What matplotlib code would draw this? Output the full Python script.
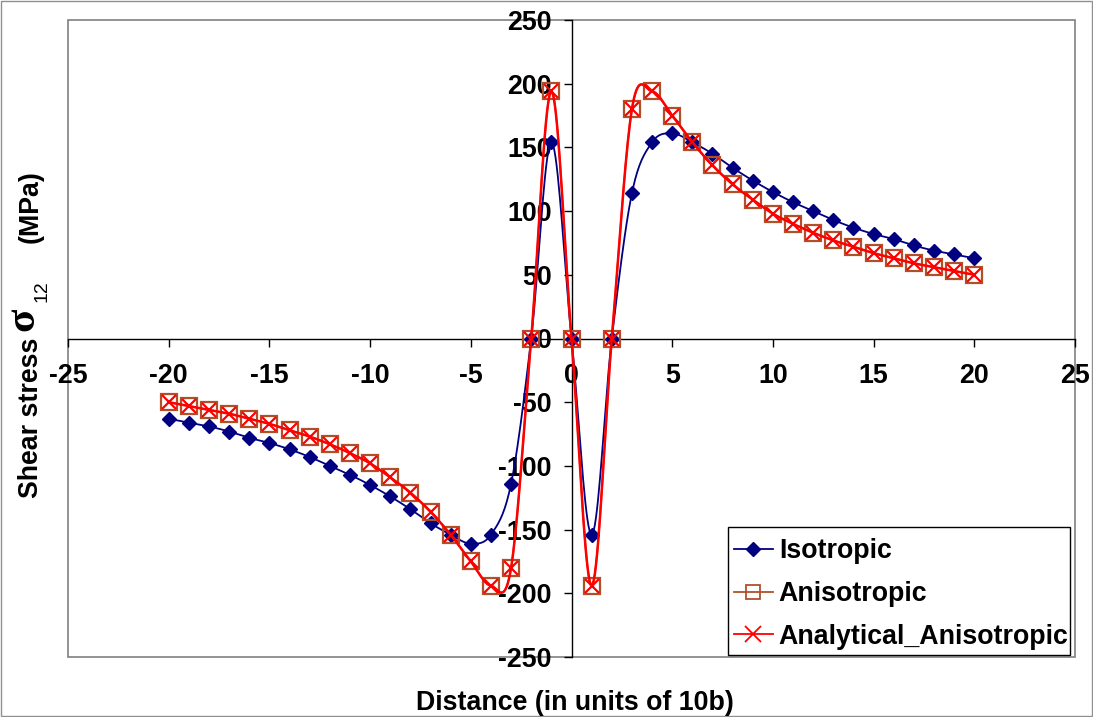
import numpy as np
import matplotlib
matplotlib.use("Agg")
import matplotlib.pyplot as plt
from matplotlib.patches import Rectangle

plt.rcParams['font.family'] = ['Liberation Sans', 'DejaVu Sans']
plt.rcParams['font.weight'] = 'bold'

# data
distance = list(range(-20, 21))
isotropic = [-63, -66, -69, -73, -78, -82, -87, -93, -100, -107, -115, -124, -134, -145,
             -154, -161, -154, -114, 0, 154, 0, -154, 0, 114, 154, 161, 154, 145, 134,
             124, 115, 107, 100, 93, 87, 82, 78, 73, 69, 66, 63]
anisotropic = [-50, -53, -56, -59, -63, -67, -72, -77, -83, -90, -98, -109, -121, -136,
               -154, -175, -194, -180, 0, 194, 0, -194, 0, 180, 194, 175, 154, 136, 121,
               109, 98, 90, 83, 77, 72, 67, 63, 59, 56, 53, 50]
analytical = list(anisotropic)

xticks = list(range(-25, 26, 5))
yticks = list(range(-250, 251, 50))

W, H = 1093, 717
FS = 19.3


# Excel-style smoothed line (cardinal spline through the points)
def smooth(x, y, n=20):
    x = np.asarray(x, float)
    y = np.asarray(y, float)
    xs, ys = [], []
    for i in range(len(x) - 1):
        x0, y0 = (x[i - 1], y[i - 1]) if i > 0 else (x[i], y[i])
        x3, y3 = (x[i + 2], y[i + 2]) if i + 2 < len(x) else (x[i + 1], y[i + 1])
        x1, y1, x2, y2 = x[i], y[i], x[i + 1], y[i + 1]
        c1x, c1y = x1 + (x2 - x0) / 6, y1 + (y2 - y0) / 6
        c2x, c2y = x2 - (x3 - x1) / 6, y2 - (y3 - y1) / 6
        t = np.linspace(0, 1, n)
        b0, b1, b2, b3 = (1 - t) ** 3, 3 * t * (1 - t) ** 2, 3 * t ** 2 * (1 - t), t ** 3
        xs.append(b0 * x1 + b1 * c1x + b2 * c2x + b3 * x2)
        ys.append(b0 * y1 + b1 * c1y + b2 * c2y + b3 * y2)
    return np.concatenate(xs), np.concatenate(ys)


fig = plt.figure(figsize=(W / 100, H / 100), dpi=100)
ax = fig.add_axes([68 / W, 1 - 657 / H, (1075 - 68) / W, (657 - 20) / H])

navy = '#000080'
brown = '#B0502A'
red = '#FF0000'

sx, sy = smooth(distance, isotropic)
ax.plot(sx, sy, color=navy, lw=1.3, zorder=3)
ax.plot(distance, isotropic, ls='none', marker='D', ms=7, color=navy, zorder=4)

sx, sy = smooth(distance, anisotropic)
ax.plot(sx, sy, color=brown, lw=1.3, zorder=3)
ax.plot(distance, anisotropic, ls='none', marker='s', ms=12, mfc='none', mec=brown,
        mew=1.6, zorder=4)

sx, sy = smooth(distance, analytical)
ax.plot(sx, sy, color=red, lw=1.8, zorder=5)
ax.plot(distance, analytical, ls='none', marker='x', ms=10, color=red, mew=1.6, zorder=6)

# legend: frame drawn separately so its size matches the original
fig.patches.append(Rectangle((728 / W, 1 - 655 / H), (1070 - 728) / W, (655 - 527) / H,
                             transform=fig.transFigure, facecolor='white',
                             edgecolor='black', lw=1.0, zorder=9))
h1, = ax.plot([], [], color=navy, lw=1.3, marker='D', ms=7)
h2, = ax.plot([], [], color=brown, lw=1.3, marker='s', ms=10, mfc='none', mew=1.3)
h3, = ax.plot([], [], color=red, lw=1.3, marker='x', ms=11, mew=1.3)
leg = fig.legend([h1, h2, h3], ['Isotropic', 'Anisotropic', 'Analytical_Anisotropic'],
                 loc='center left', bbox_to_anchor=(734 / W, 1 - 594 / H),
                 fontsize=FS, frameon=False, handlelength=1.45, borderpad=0,
                 labelspacing=0.62, handletextpad=0.22, borderaxespad=0)
leg.set_zorder(10)

ax.set_xlim(-25, 25)
ax.set_ylim(-250, 250)
ax.set_xticks(xticks)
ax.set_yticks(yticks)
ax.set_xticklabels([str(v) for v in xticks])
ax.set_yticklabels([str(v) for v in yticks])

for s in ['left', 'bottom']:
    ax.spines[s].set_position(('data', 0))
    ax.spines[s].set_color('black')
    ax.spines[s].set_linewidth(1.0)
for s in ['top', 'right']:
    ax.spines[s].set_visible(False)
ax.tick_params(direction='out', length=5.8, width=1, labelsize=FS)
ax.tick_params(axis='x', pad=12)
ax.tick_params(axis='y', pad=8.5)

ax.add_patch(Rectangle((0, 0), 1, 1, transform=ax.transAxes, fill=False,
                       edgecolor='#808080', lw=1.2, zorder=0, clip_on=False))

fig.text(575 / W, 1 - 703 / H, 'Distance (in units of 10b)', ha='center',
         va='center', fontsize=FS, fontweight='bold')

# y label built from pieces so sigma can be bigger than the rest
ykw = dict(rotation=90, rotation_mode='anchor', ha='center', va='baseline')
fig.text(38 / W, 1 - 418 / H, 'Shear stress', fontsize=FS, fontweight='bold', **ykw)
fig.text(33 / W, 1 - 319 / H, 'σ', fontsize=31, fontweight='bold',
         family=['Liberation Serif', 'DejaVu Serif'], **ykw)
fig.text(47 / W, 1 - 291 / H, '12', fontsize=14, fontweight='normal', **ykw)
fig.text(38 / W, 1 - 207 / H, '(MPa)', fontsize=FS, fontweight='bold', **ykw)

fig.patches.append(Rectangle((0.001, 0.001), 0.998, 0.998, transform=fig.transFigure,
                             fill=False, edgecolor='#909090', lw=1.0))

fig.savefig('out.png', dpi=100)
